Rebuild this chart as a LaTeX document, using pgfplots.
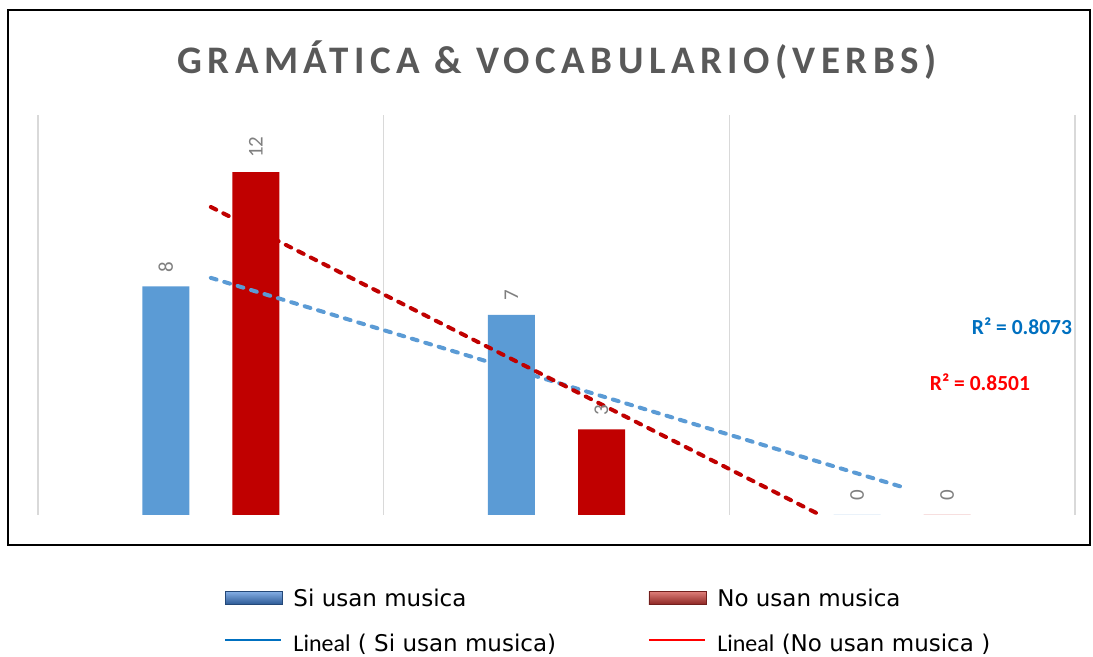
\documentclass[border=0pt]{standalone}
\usepackage{fontspec}
\setmainfont{Carlito}
\newfontfamily\dejavu{DejaVu Sans}
\usepackage{graphicx}
\usepackage{pgfplots}
\pgfplotsset{compat=1.18}
\definecolor{barblue}{HTML}{5B9BD5}
\definecolor{barred}{HTML}{C00000}
\definecolor{rblue}{HTML}{0070C0}
\definecolor{rred}{HTML}{FF0000}
\definecolor{titlegray}{HTML}{595959}
\definecolor{labelgray}{HTML}{7F7F7F}
\definecolor{gridgray}{HTML}{D9D9D9}
\definecolor{legb1}{HTML}{86B0E6}
\definecolor{legb2}{HTML}{2D5A96}
\definecolor{legr1}{HTML}{E0807B}
\definecolor{legr2}{HTML}{8E2724}
\begin{document}
\begin{tikzpicture}[x=1bp,y=1bp]
\path[use as bounding box] (0,0) rectangle (1093,657);
\draw[line width=2bp] (8,112) rectangle (1090,647);
\node[font=\fontsize{39bp}{45bp}\selectfont\bfseries\addfontfeature{LetterSpace=14}, text=titlegray] at (557,597) {GRAMÁTICA \& VOCABULARIO(VERBS)};
\begin{axis}[
  at={(38bp,142bp)}, anchor=south west,
  width=1037bp, height=400bp, scale only axis,
  xmin=0.5, xmax=3.5, ymin=0, ymax=14,
  axis line style={draw=none},
  xtick={0.5,1.5,2.5,3.5}, xticklabels={}, major tick length=0pt,
  ytick=\empty,
  xmajorgrids, grid style={draw=gridgray, line width=1.5bp},
  clip=false,
  /pgf/number format/assume math mode=true,
  every node near coord/.append style={font=\fontsize{21bp}{24bp}\selectfont, text=labelgray, inner sep=0pt, yshift=14bp},
  legend columns=2,
  legend cell align=left,
  legend style={at={(0.1795,-0.1825)}, anchor=north west, draw=none, fill=none, inner sep=0pt,
    font=\dejavu\fontsize{23bp}{27bp}\selectfont,
    nodes={inner sep=0pt, text height=18bp, text depth=6bp},
    row sep=21bp,
    /tikz/every odd column/.append style={column sep=11bp},
    /tikz/every even column/.append style={column sep=92bp}},
]
\addplot[ybar, bar width=47bp, bar shift=-45bp, fill=barblue, draw=none,
  every node near coord/.append style={xshift=-45bp},
  nodes near coords={\rotatebox{90}{\pgfmathprintnumber{\pgfplotspointmeta}}},
  legend image code/.code={\draw[draw=legb2!80!black, line width=0.8bp, top color=legb1, bottom color=legb2] (0bp,-4bp) rectangle (57bp,9bp);}]
  coordinates {(1,8) (2,7) (3,0)};
\addplot[ybar, bar width=47bp, bar shift=45bp, fill=barred, draw=none,
  every node near coord/.append style={xshift=45bp},
  nodes near coords={\rotatebox{90}{\pgfmathprintnumber{\pgfplotspointmeta}}},
  legend image code/.code={\draw[draw=legr2!80!black, line width=0.8bp, top color=legr1, bottom color=legr2] (0bp,-4bp) rectangle (57bp,9bp);}]
  coordinates {(1,12) (2,3) (3,0)};
\addplot[barblue, line width=4bp, dash pattern=on 6bp off 8bp, line cap=round,
  legend image code/.code={\draw[rblue, solid, line cap=butt, line width=1.5bp] (0bp,5bp) -- (56bp,5bp);}]
  coordinates {(1,8.30) (3,0.98)};
\addplot[barred, line width=4bp, dash pattern=on 6bp off 8bp, line cap=round,
  legend image code/.code={\draw[rred, solid, line cap=butt, line width=1.5bp] (0bp,5bp) -- (56bp,5bp);}]
  coordinates {(1,10.78) (2.763,0)};
\legend{Si usan musica, No usan musica,
  {{\rmfamily\fontsize{24bp}{28bp}\selectfont Lineal} ( Si usan musica)},
  {{\rmfamily\fontsize{24bp}{28bp}\selectfont Lineal} (No usan musica )}}
\end{axis}
\node[font=\fontsize{21.5bp}{25bp}\selectfont\bfseries, text=rblue] at (1022,331) {R² = 0.8073};
\node[font=\fontsize{21.5bp}{25bp}\selectfont\bfseries, text=rred] at (980,275) {R² = 0.8501};
\end{tikzpicture}
\end{document}
